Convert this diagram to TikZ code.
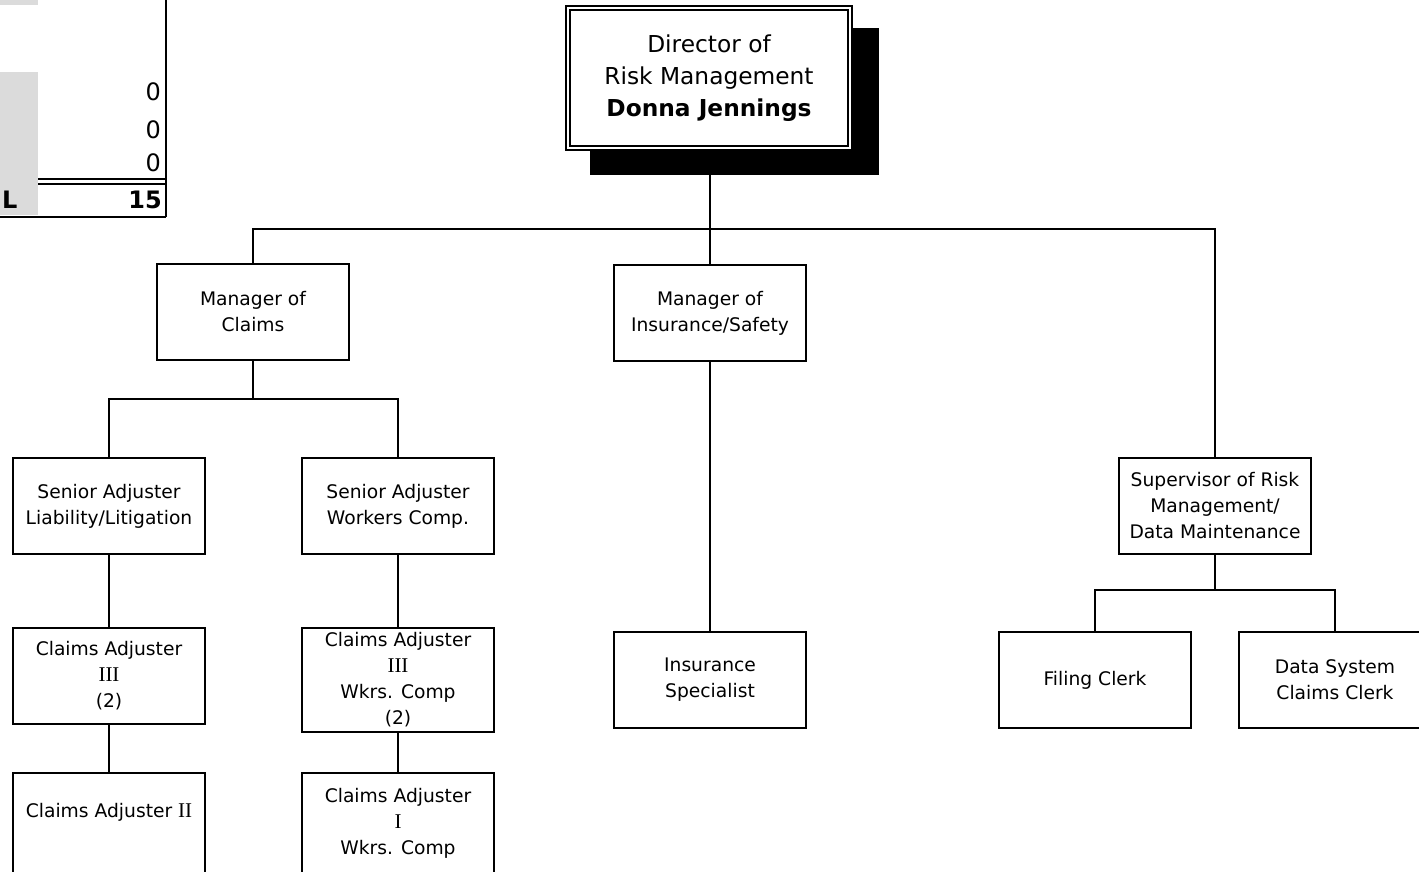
\documentclass[tikz,border=0pt]{standalone}
\usepackage{fontspec}
\setmainfont{DejaVu Sans}
\newfontfamily\romnum{Liberation Serif}
\newcommand\boxfont{\fontsize{18.7}{26}\selectfont}
\newcommand\headfont{\fontsize{23.3}{32}\selectfont}
\newcommand\sheetfont{\fontsize{24}{28}\selectfont}
\newcommand\rn[1]{{\romnum\fontsize{21}{26}\selectfont #1}}
\tikzset{
  post/.style={draw, line width=2pt, fill=white, minimum width=192pt,
    minimum height=96pt, inner sep=0pt, align=center, font=\boxfont},
  head/.style={draw, double, double distance=2pt, line width=2pt, fill=white,
    minimum width=282pt, minimum height=140pt, inner sep=0pt, align=center, font=\headfont},
  wire/.style={line width=2pt},
  cell/.style={inner sep=0pt, font=\sheetfont},
}
\begin{document}
\begin{tikzpicture}[x=1pt,y=-1pt]
\useasboundingbox (0,0) rectangle (1419,871);

% corner of a spreadsheet
\fill[gray!28] (0,0) rectangle (38,5);
\fill[gray!28] (0,72) rectangle (38,215);
\draw[wire] (166,0) -- (166,217);
\draw[wire] (38,179) -- (166,179);
\draw[wire] (38,184) -- (166,184);
\draw[wire] (0,217) -- (166,217);
\node[cell, anchor=east] (z1) at (161,92) {0};
\node[cell, anchor=east] (z2) at (161,130) {0};
\node[cell, anchor=east] (z3) at (161,163) {0};
\node[cell, anchor=west, font=\sheetfont\bfseries] (tl) at (2,200) {L};
\node[cell, anchor=east, font=\sheetfont\bfseries] (tn) at (162,200) {15};

% director with drop shadow
\fill[black] (590,28) rectangle (879,175);
\node[head] (dir) at (709,78) {Director of\\Risk Management\\\textbf{Donna Jennings}};

% managers
\node[post] (mcl) at (253,312) {Manager of\\Claims};
\node[post] (mins) at (710,313) {Manager of\\Insurance/Safety};
\node[post] (sup) at (1215,506) {Supervisor of Risk\\Management/\\Data Maintenance};

% claims branch
\node[post] (sal) at (109,506) {Senior Adjuster\\Liability/Litigation};
\node[post] (saw) at (398,506) {Senior Adjuster\\Workers Comp.};
\node[post] (ca3) at (109,676) {Claims Adjuster\\\rn{III}\\(2)};
\node[post, minimum height=104pt] (ca3w) at (398,680) {Claims Adjuster\\\rn{III}\\Wkrs. Comp\\(2)};
\node[post, minimum height=100pt] (ca2) at (109,823) {Claims Adjuster \rn{II}\\{}};
\node[post, minimum height=100pt] (ca1w) at (398,823) {Claims Adjuster\\\rn{I}\\Wkrs. Comp};

% insurance branch
\node[post] (ins) at (710,680) {Insurance\\Specialist};

% data branch
\node[post] (fc) at (1095,680) {Filing Clerk};
\node[post] (dsc) at (1335,680) {Data System\\Claims Clerk};

% connectors
\coordinate (bus) at (710,229);
\coordinate (cbus) at (253,399);
\coordinate (sbus) at (1215,590);
\draw[wire] (bus |- dir.south) -- (bus);
\draw[wire] (mcl.north) |- (bus) -| (sup.north);
\draw[wire] (bus) -- (bus |- mins.north);
\draw[wire] (mcl.south) -- (cbus);
\draw[wire] (sal.north) |- (cbus) -| (saw.north);
\draw[wire] (sal.south) -- (ca3.north);
\draw[wire] (ca3.south) -- (ca2.north);
\draw[wire] (saw.south) -- (ca3w.north);
\draw[wire] (ca3w.south) -- (ca1w.north);
\draw[wire] (mins.south) -- (mins.south |- ins.north);
\draw[wire] (sup.south) -- (sbus);
\draw[wire] (fc.north) |- (sbus) -| (dsc.north);
\end{tikzpicture}
\end{document}
